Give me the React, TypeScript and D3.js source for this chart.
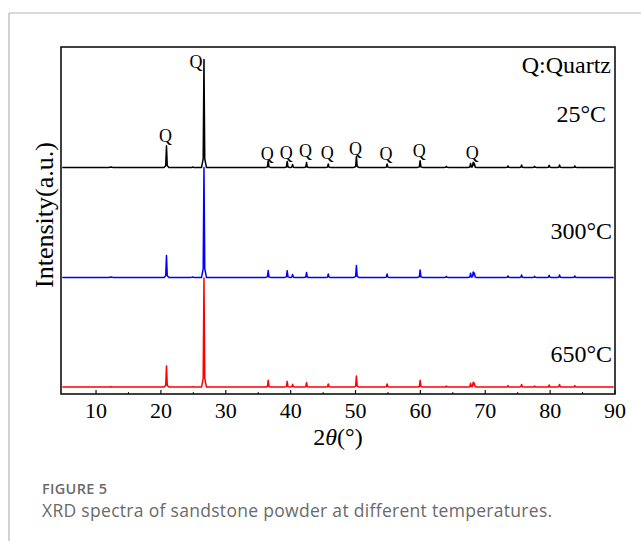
import React from "react";
import * as d3 from "d3";

// ---- data ----
const peakPositions = [12.3, 20.86, 24.9, 26.64, 36.54, 39.47, 40.3, 42.45, 45.8, 50.14, 54.87, 59.96, 64.0, 67.74, 68.14, 68.32, 73.5, 75.6, 77.6, 79.85, 81.45, 83.8];
const heights25 = [0.15, 6.25, 0.12, 31.1, 1.93, 1.73, 0.86, 1.44, 1.0, 3.17, 1.0, 1.93, 0.3, 1.15, 1.44, 1.1, 0.43, 0.72, 0.3, 0.58, 0.72, 0.43];
const heights300 = [0.15, 6.3, 0.12, 31.7, 2.0, 1.93, 0.86, 1.44, 1.0, 3.46, 1.0, 2.16, 0.3, 1.2, 1.5, 1.15, 0.43, 0.72, 0.3, 0.58, 0.72, 0.43];
const heights650 = [0.15, 6.05, 0.12, 31.4, 1.93, 1.64, 0.78, 1.24, 0.86, 3.17, 0.86, 1.93, 0.3, 1.1, 1.3, 1.05, 0.43, 0.72, 0.3, 0.58, 0.72, 0.43];
const offsets = [65.3, 33.6, 2.0];
const seriesNames = ["25°C", "300°C", "650°C"];
const seriesColors = ["#000000", "#0000ff", "#ff0000"];
const xTicks = [10, 20, 30, 40, 50, 60, 70, 80, 90];
const xMinorTicks = [15, 25, 35, 45, 55, 65, 75, 85];
const qLabelPositions = [20.86, 26.64, 36.54, 39.47, 42.45, 45.8, 50.14, 54.87, 59.96, 68.14];
const qLabelLevels = [7.2, 28.6, 2.2, 2.4, 3.0, 2.4, 3.6, 2.1, 3.0, 2.5];

const W = 641, H = 541;
const M = { left: 61, right: 615, top: 47, bottom: 394 };
const x = d3.scaleLinear().domain([4.6, 90]).range([M.left, M.right]);
const y = d3.scaleLinear().domain([0, 100]).range([M.bottom, M.top]);

const HW = 0.38; // base half-width
const SW = 0.12; // shoulder
function profile(dx: number, h: number) {
  const a = Math.abs(dx);
  if (a >= HW) return 0;
  if (a <= SW) return h - (h - 0.08 * h) * (a / SW);
  return 0.08 * h * (HW - a) / (HW - SW);
}
function buildSeries(heights: number[], offset: number): [number, number][] {
  const xs: number[] = [4.8, 89.8];
  peakPositions.forEach((p) => { xs.push(p - HW, p - SW, p, p + SW, p + HW); });
  xs.sort((a, b) => a - b);
  return xs.map((xv) => {
    let v = 0;
    peakPositions.forEach((p, i) => { v += profile(xv - p, heights[i]); });
    return [xv, offset + v] as [number, number];
  });
}

const allHeights = [heights25, heights300, heights650];

export default function App() {
  const line = d3.line<[number, number]>().x((d) => x(d[0])).y((d) => y(d[1]));
  const serif = "'Liberation Serif', 'Times New Roman', serif";
  const sans = "'Open Sans', 'Noto Sans', sans-serif";
  const tempLabelY = [122, 239, 362];
  const tempLabelX = [606, 612, 612];
  return (
    <svg width={W} height={H} style={{ position: "absolute", left: 0, top: 0, background: "#fff" }}>
      <rect x={0} y={0} width={W} height={H} fill="#fff" />
      <line x1={9} y1={13} x2={W} y2={13} stroke="#b5b5b5" strokeWidth={1.2} />
      <line x1={9} y1={13} x2={9} y2={H} stroke="#b5b5b5" strokeWidth={1.2} />
      {[2, 1, 0].map((i) => (
        <path key={i} d={line(buildSeries(allHeights[i], offsets[i])) || ""} fill="none" stroke={seriesColors[i]} strokeWidth={1.5} strokeLinejoin="round" />
      ))}
      <rect x={M.left} y={M.top} width={M.right - M.left} height={M.bottom - M.top} fill="none" stroke="#111" strokeWidth={1.6} />
      {xTicks.map((t) => (
        <g key={t}>
          <line x1={x(t)} x2={x(t)} y1={M.bottom} y2={M.bottom - 4} stroke="#111" strokeWidth={1.2} />
          <text x={x(t)} y={418} textAnchor="middle" fontFamily={serif} fontSize={22} fill="#000">{t}</text>
        </g>
      ))}
      {xMinorTicks.map((t) => (
        <line key={t} x1={x(t)} x2={x(t)} y1={M.bottom} y2={M.bottom - 2} stroke="#111" strokeWidth={1} />
      ))}
      <text x={338} y={445} textAnchor="middle" fontFamily={serif} fontSize={24} fill="#000">
        2<tspan fontStyle="italic">θ</tspan>(°)
      </text>
      <text transform="translate(53,215) rotate(-90)" textAnchor="middle" fontFamily={serif} fontSize={26} fill="#000">Intensity(a.u.)</text>
      {qLabelPositions.map((p, i) => (
        <text key={i} x={x(p) - (i === 1 ? 8 : 1)} y={y(offsets[0] + qLabelLevels[i])} textAnchor="middle" fontFamily={serif} fontSize={18} fill="#000">Q</text>
      ))}
      <text x={611} y={73} textAnchor="end" fontFamily={serif} fontSize={24} fill="#000">Q:Quartz</text>
      {seriesNames.map((n, i) => (
        <text key={n} x={tempLabelX[i]} y={tempLabelY[i]} textAnchor="end" fontFamily={serif} fontSize={24} fill="#000">{n}</text>
      ))}
      <text x={42} y={494} fontFamily={sans} fontSize={14.5} fontWeight={600} letterSpacing={0.3} fill="#6a6a6a">FIGURE 5</text>
      <text x={42} y={517} fontFamily={sans} fontSize={17.5} letterSpacing={0.3} fill="#6a6a6a">XRD spectra of sandstone powder at different temperatures.</text>
    </svg>
  );
}
